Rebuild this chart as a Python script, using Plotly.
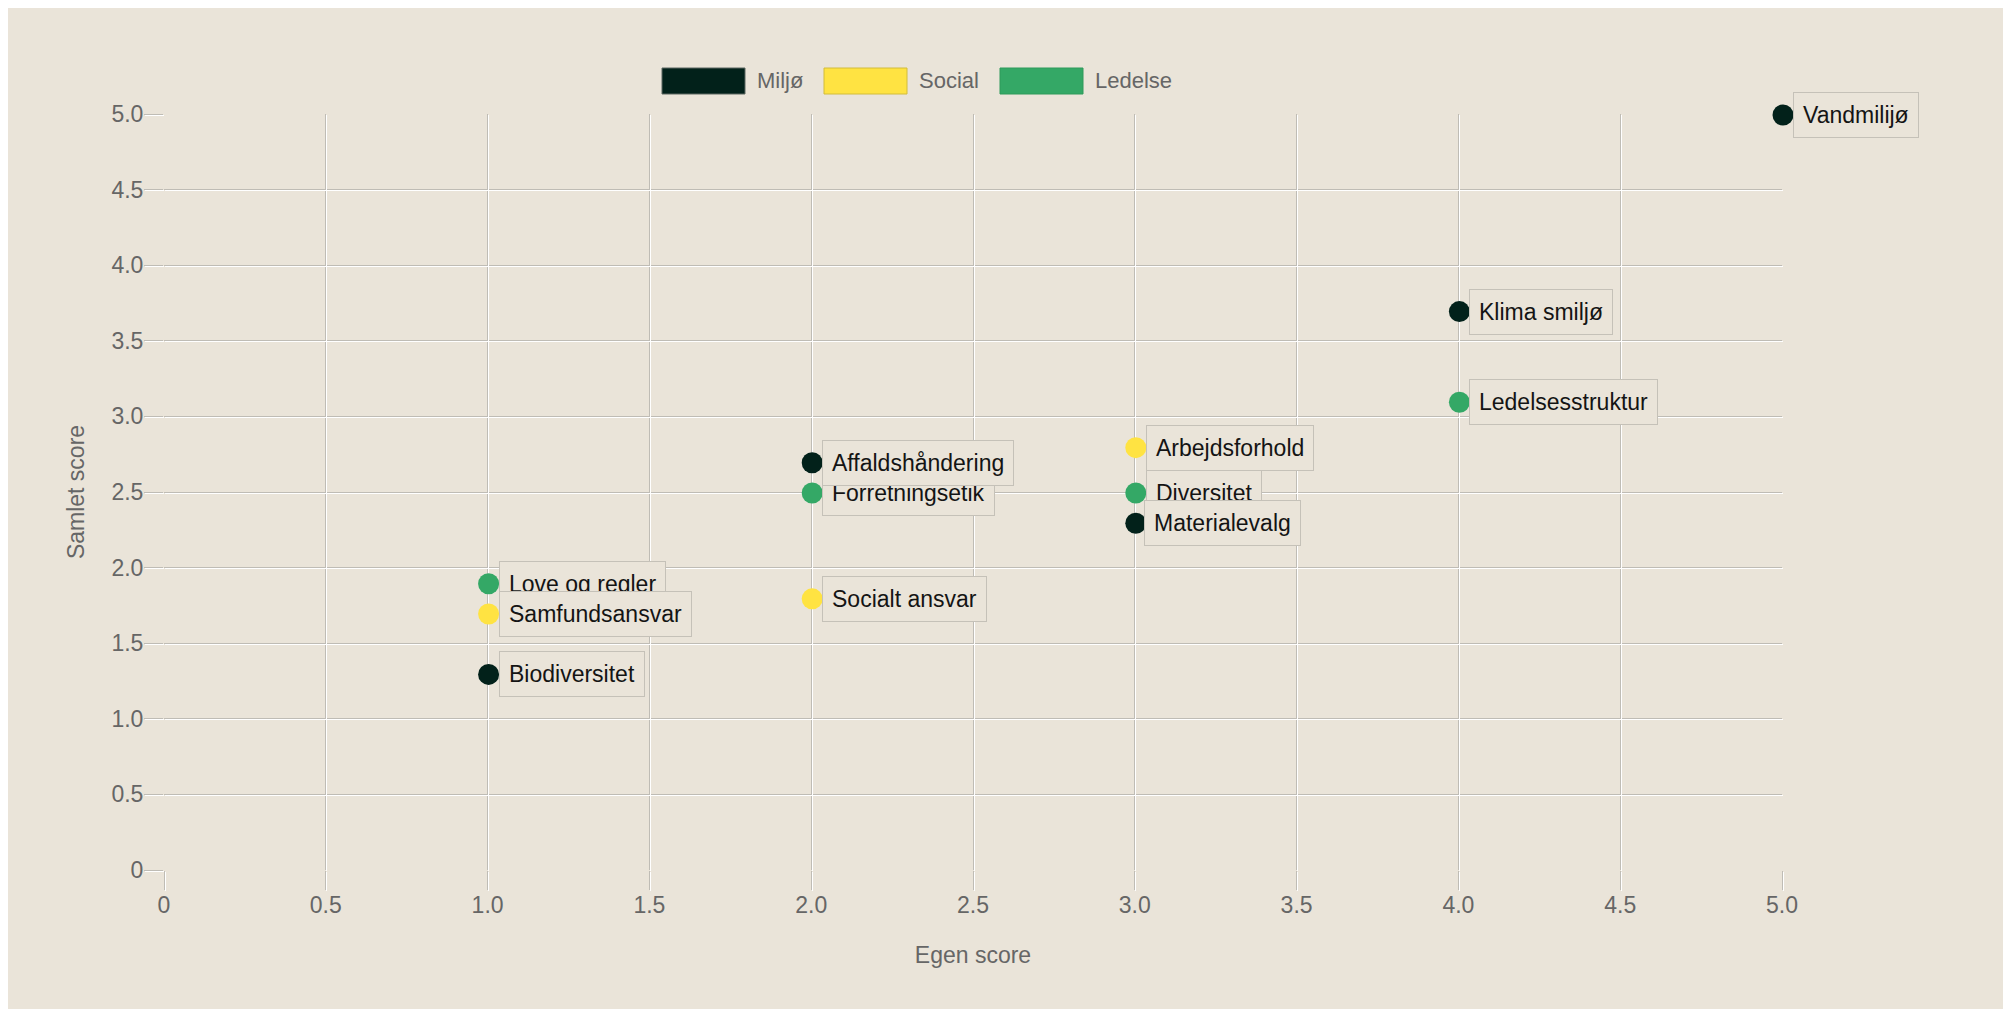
import plotly.graph_objects as go

# ---------------- data ----------------
series_names = ["Miljø", "Social", "Ledelse"]
series_colors = ["#02211A", "#FFE342", "#34A866"]
series_border = ["#5A6660", "#D2BC3A", "#2E9A5B"]

miljo_labels = ["Vandmilijø", "Klima smiljø", "Affaldshåndering", "Materialevalg", "Biodiversitet"]
miljo_x = [5, 4, 2, 3, 1]
miljo_y = [5.0, 3.7, 2.7, 2.3, 1.3]

social_labels = ["Arbejdsforhold", "Socialt ansvar", "Samfundsansvar"]
social_x = [3, 2, 1]
social_y = [2.8, 1.8, 1.7]

ledelse_labels = ["Ledelsesstruktur", "Forretningsetik", "Diversitet", "Love og regler"]
ledelse_x = [4, 2, 3, 1]
ledelse_y = [3.1, 2.5, 2.5, 1.9]

tick_vals = [0, 0.5, 1.0, 1.5, 2.0, 2.5, 3.0, 3.5, 4.0, 4.5, 5.0]
tick_text = ["0", "0.5", "1.0", "1.5", "2.0", "2.5", "3.0", "3.5", "4.0", "4.5", "5.0"]

x_title = "Egen score"
y_title = "Samlet score"

# ---------------- style ----------------
FONT = "Liberation Sans, Arial, sans-serif"
BG = "#EAE4D9"
GRID_DARK = "#BFBCB5"
GRID_LIGHT = "#FFFFFF"
TICKFONT_COLOR = "#666666"
W, H = 1995, 1001
ML, MR, MT, MB = 156, 220, 106, 138
PW, PH = W - ML - MR, H - MT - MB
DX, DY = 1.0 / PW, 1.0 / PH

def px2x(px):
    return (px - 8 - ML) / PW

def py2y(py):
    return (H - MB - (py - 9)) / PH

series = [
    (miljo_labels, miljo_x, miljo_y),
    (social_labels, social_x, social_y),
    (ledelse_labels, ledelse_x, ledelse_y),
]

fig = go.Figure()
# base subplot carries the darker grid line, tick labels and titles
fig.add_trace(go.Scatter(x=[None], y=[None], xaxis="x", yaxis="y",
                         showlegend=False, hoverinfo="skip"))
# top subplot (1px offset) carries the light grid line and the points
for (labels, xs, ys), name, color in zip(series, series_names, series_colors):
    fig.add_trace(go.Scatter(
        x=xs, y=ys, mode="markers", name=name, text=labels,
        xaxis="x2", yaxis="y2",
        marker=dict(size=21, color=color, line=dict(width=0)),
        cliponaxis=False, showlegend=False,
        hovertemplate="%{text}: (%{x}, %{y})<extra>" + name + "</extra>",
    ))

# point labels (boxes drawn in this order; later ones on top)
all_points = []
for labels, xs, ys in series:
    all_points += list(zip(labels, xs, ys))
behind = ["Forretningsetik", "Diversitet", "Love og regler"]
all_points.sort(key=lambda p: 0 if p[0] in behind else 1)
label_xshift = {"Materialevalg": 8}

annotations = []
for lab, xv, yv in all_points:
    annotations.append(dict(
        x=xv, y=yv, xref="x2", yref="y2", text=lab, showarrow=False,
        xanchor="left", yanchor="middle", xshift=label_xshift.get(lab, 10),
        font=dict(family=FONT, size=23, color="#141414"),
        bgcolor=BG, bordercolor="#C5C1B8", borderwidth=1, borderpad=9,
    ))

# custom legend
legend_x = [662, 824, 1000]
shapes = []
for name, color, bcol, lx in zip(series_names, series_colors, series_border, legend_x):
    shapes.append(dict(type="rect", xref="paper", yref="paper",
                       x0=px2x(lx), x1=px2x(lx + 83), y0=py2y(95), y1=py2y(69),
                       fillcolor=color, line=dict(color=bcol, width=1)))
    annotations.append(dict(x=px2x(lx + 93), y=py2y(82), xref="paper", yref="paper",
                            text=name, showarrow=False, xanchor="left", yanchor="middle",
                            font=dict(family=FONT, size=22, color=TICKFONT_COLOR)))

axis_common = dict(
    range=[0, 5], tickmode="array", tickvals=tick_vals, ticktext=tick_text,
    showgrid=True, gridwidth=1,
    zeroline=False, showline=False,
    ticks="outside", ticklen=19, tickwidth=1,
    tickfont=dict(family=FONT, size=23, color=TICKFONT_COLOR),
)
title_font = dict(family=FONT, size=23, color=TICKFONT_COLOR)

fig.update_layout(
    width=W, height=H,
    margin=dict(l=ML, r=MR, t=MT, b=MB),
    paper_bgcolor=BG, plot_bgcolor="rgba(0,0,0,0)",
    showlegend=False,
    xaxis=dict(**axis_common, domain=[0, 1 - DX], anchor="y",
               gridcolor=GRID_DARK, tickcolor=GRID_DARK, ticklabelstandoff=-5,
               title=dict(text=x_title, font=title_font, standoff=30)),
    yaxis=dict(**axis_common, domain=[DY, 1], anchor="x",
               gridcolor=GRID_DARK, tickcolor=GRID_DARK, ticklabelstandoff=-4,
               title=dict(text=y_title, font=title_font, standoff=20)),
    xaxis2=dict(**axis_common, domain=[DX, 1], anchor="y2",
                gridcolor=GRID_LIGHT, tickcolor=GRID_LIGHT, showticklabels=False),
    yaxis2=dict(**axis_common, domain=[0, 1 - DY], anchor="x2",
                gridcolor=GRID_LIGHT, tickcolor=GRID_LIGHT, showticklabels=False),
    annotations=annotations,
    shapes=shapes,
)

fig.write_html("out.html")
